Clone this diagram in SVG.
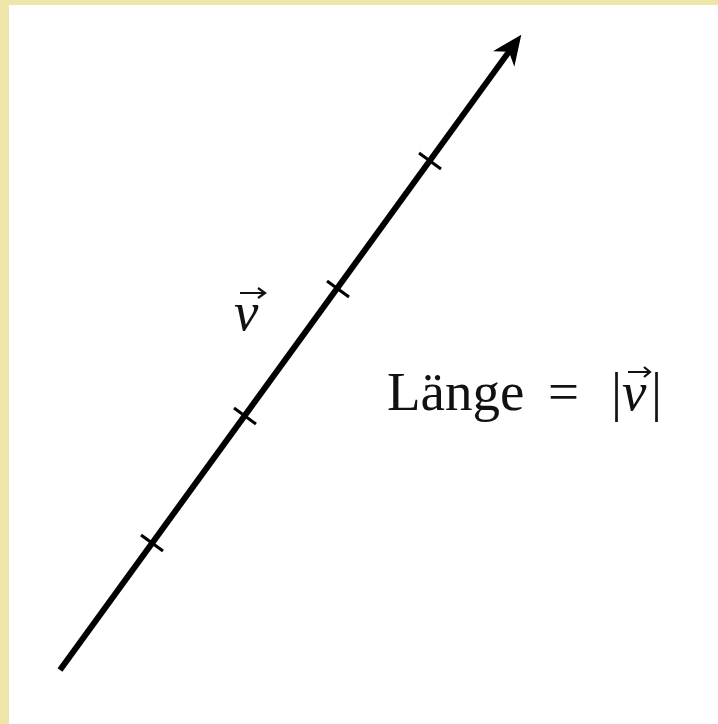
<svg xmlns="http://www.w3.org/2000/svg" width="718" height="724" viewBox="0 0 718 724">
<style>
.vec{stroke:#000;stroke-width:6;fill:none;stroke-linecap:butt}
.tick{stroke:#000;stroke-width:3;fill:none}
.t{font-family:"Liberation Serif","DejaVu Serif",serif;font-size:55px;fill:#111}
.i{font-style:italic}
.va{stroke:#111;stroke-width:2.2;fill:none}
</style>
<defs>
<marker id="ah" viewBox="0 0 10 10" refX="7" refY="5" markerWidth="5" markerHeight="5" orient="auto" markerUnits="strokeWidth">
<path d="M0,0.6 L10,5 L0,9.4 L3,5 Z" fill="#000"/>
</marker>
</defs>
<rect x="0" y="0" width="718" height="724" fill="#ede6a8"/>
<rect x="9" y="5" width="709" height="719" fill="#fff"/>
<g id="connectors">
<line class="vec" x1="60" y1="670" x2="516" y2="42" marker-end="url(#ah)"/>
<g id="ticks">
<line class="tick" x1="141" y1="535" x2="163" y2="551"/>
<line class="tick" x1="234" y1="408" x2="256" y2="424"/>
<line class="tick" x1="327" y1="281" x2="349" y2="297"/>
<line class="tick" x1="419" y1="153" x2="441" y2="169"/>
</g>
</g>
<g id="label-v">
<text class="t i" x="234" y="330">v</text>
<path class="va" d="M240,293 H264 M258,288 L265,293 L258,298"/>
</g>
<g id="label-length">
<text class="t" x="387" y="410">Länge</text>
<text class="t" x="548" y="410">=</text>
<text class="t" x="611" y="410">|</text>
<text class="t i" x="622" y="410">v</text>
<path class="va" d="M628,372 H649 M644,367 L650,372 L644,377"/>
<text class="t" x="651" y="410">|</text>
</g>
</svg>
